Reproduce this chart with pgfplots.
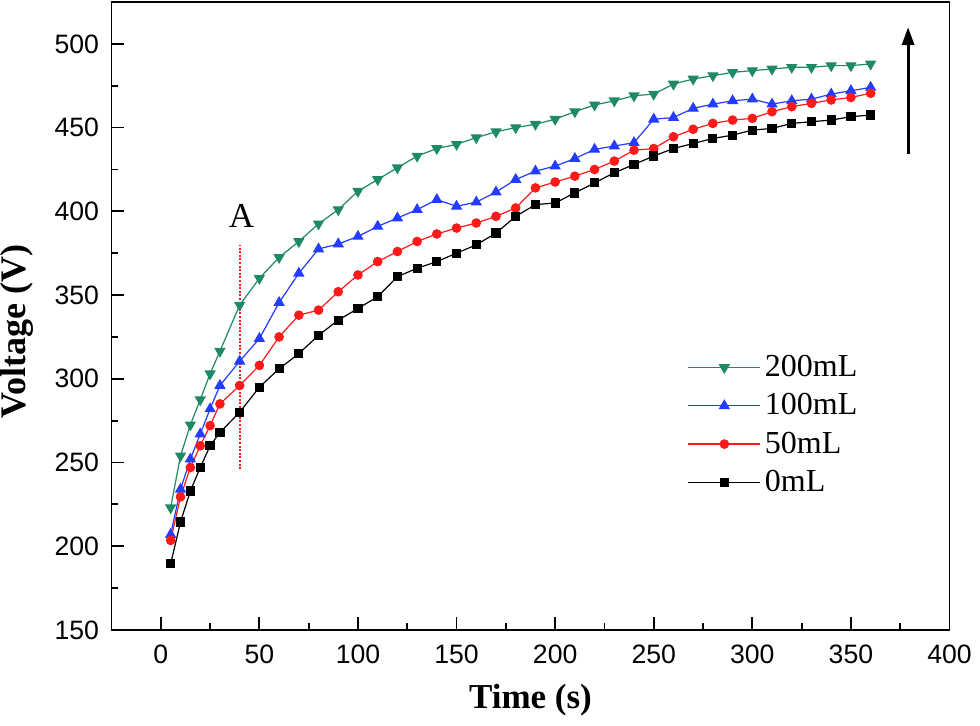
\documentclass[border=0pt]{standalone}
\usepackage{fontspec}
\setmainfont{Liberation Serif}
\newfontfamily\arial{Liberation Sans}
\usepackage{pgfplots}
\usepackage{pgfplotstable}
\pgfplotsset{compat=1.18}
\usetikzlibrary{arrows.meta}
\definecolor{cgreen}{RGB}{30,138,100}
\definecolor{cblue}{RGB}{35,60,255}
\definecolor{cred}{RGB}{255,25,25}

\pgfplotstableread{
t   g     b     r     k
5   223   207   203.5 189.5
10  254   234   229.5 214.5
15  272.5 252   247   233
20  287.5 267   260   247
25  303   282   272   260
30  316.5 296   285   268
40  344   310.5 296   280
50  360   324   308   295
60  372.5 345.5 325   306
70  382   363   338   315
80  392.5 377.5 341   326
90  401   380.5 352   335
100 412   385   362   342
110 419   391   370   349
120 426   396   376   361
130 433   401   382   366
140 437.5 407   386.5 370
150 440   403   390   375
160 444   405.5 393   380
170 447.5 411.5 397   387
180 450   419   402   397
190 452   424   414   404
200 455   427   417.5 405
210 459.5 431.5 421   411
220 463.5 437   425   417
230 466   439   430   423
240 469   441   436.5 428
250 470   455   437.5 433
260 476   456   444.5 437.5
270 479   461.5 449   440.5
280 481   464   452.5 443.5
290 483   466   454.5 445.5
300 484   467   455.5 448.5
310 485   464   459.5 449.5
320 486   466   462.5 452.5
330 486   467   464.5 453.5
340 487   470   466.5 454.5
350 487   472   468   456.5
360 488   474   470.5 457.5
}\datatable

\begin{document}
\begin{tikzpicture}
\begin{axis}[
  scale only axis, width=419pt, height=314pt,
  xmin=-25, xmax=400, ymin=150, ymax=525,
  xtick={0,50,...,400}, ytick={150,200,...,500},
  minor x tick num=1, minor y tick num=1,
  tick align=inside, xtick pos=left, ytick pos=left,
  major tick length=6.5pt, minor tick length=3.5pt,
  axis line style={line width=0.9pt},
  tick style={line width=0.9pt, black},
  /pgf/number format/assume math mode=true,
  ticklabel style={font=\arial\fontsize{13.3}{13.3}\selectfont},
  xticklabel style={yshift=-4pt},
  yticklabel style={xshift=-2.7pt},
  xlabel={Time (s)},
  xlabel style={at={(axis description cs:0.5,-0.1115)}, anchor=center, font=\fontsize{17.5}{17.5}\selectfont\bfseries},
  ylabel={Voltage (V)},
  ylabel style={at={(axis description cs:-0.113,0.475)}, anchor=center, font=\fontsize{18}{18}\selectfont\bfseries},
  legend style={draw=none, fill=none, at={(axis cs:264,319)}, anchor=north west,
    font=\fontsize{16}{16}\selectfont, row sep=3pt, legend cell align=left},
  legend image code/.code={\draw[mark repeat=2,mark phase=2] plot coordinates {(0pt,0pt) (18pt,0pt) (36pt,0pt)};},
]
\coordinate (bl) at (rel axis cs:0,0);
\addplot[cgreen, line width=0.6pt, mark=triangle*, mark size=2.7pt, mark options={rotate=180}] table[x=t,y=g] {\datatable};
\addlegendentry{200mL}
\addplot[cblue, line width=0.6pt, mark=triangle*, mark size=2.7pt] table[x=t,y=b] {\datatable};
\addlegendentry{100mL}
\addplot[cred, line width=0.6pt, mark=*, mark size=2.1pt] table[x=t,y=r] {\datatable};
\addlegendentry{50mL}
\addplot[black, line width=0.6pt, mark=square*, mark size=2pt] table[x=t,y=k] {\datatable};
\addlegendentry{0mL}
\draw[cred, line width=1pt, dash pattern=on 1pt off 0.8pt] (axis cs:40,246) -- (axis cs:40,380);
\node[font=\fontsize{17.5}{17.5}\selectfont] at (axis cs:41,397.5) {A};
\draw[line width=1.6pt, -{Triangle[length=9pt,width=6pt]}] (axis cs:379,434) -- (axis cs:379,510);
\end{axis}
\pgfresetboundingbox
\path[use as bounding box] (bl) ++(-55.75pt,-48pt) rectangle ++(490pt,363pt);
\end{tikzpicture}
\end{document}
